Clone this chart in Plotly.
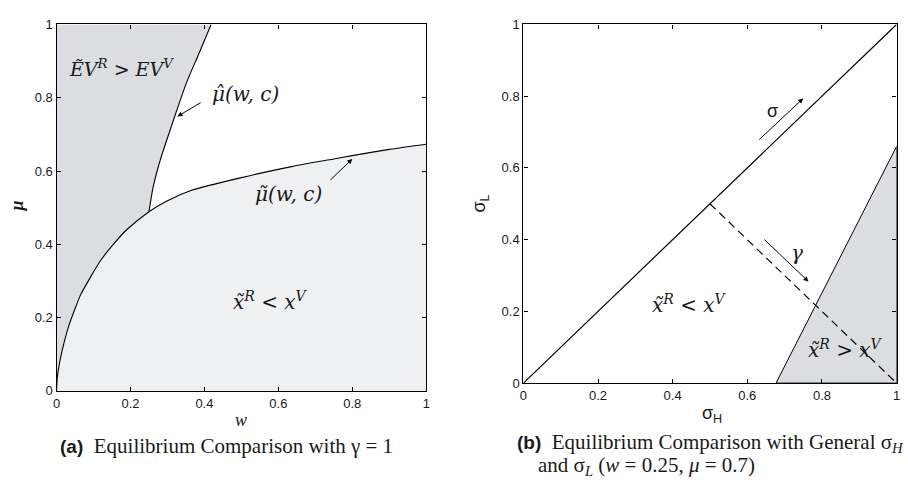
import plotly.graph_objects as go

# ---- Data ----
w_tilde = [0, 0.002, 0.005, 0.01, 0.02, 0.032, 0.05, 0.065, 0.09, 0.12, 0.153, 0.189, 0.25,
           0.296, 0.367, 0.5, 0.635, 0.75, 0.8, 0.9, 1.0]
mu_tilde = [0, 0.035, 0.058, 0.086, 0.13, 0.174, 0.224, 0.262, 0.307, 0.357, 0.399, 0.439, 0.489,
            0.517, 0.548, 0.582, 0.612, 0.633, 0.642, 0.659, 0.673]
w_hat = [0.25, 0.26, 0.272, 0.29, 0.31, 0.33, 0.355, 0.385, 0.418]
mu_hat = [0.489, 0.55, 0.6, 0.66, 0.72, 0.78, 0.85, 0.92, 1.0]

diag_x = [0, 1]
diag_y = [0, 1]
gray_x = [0.677, 1.0, 1.0]
gray_y = [0.0, 0.66, 0.0]
dash_x = [0.5, 1.0]
dash_y = [0.5, 0.0]

ticks = [0, 0.2, 0.4, 0.6, 0.8, 1]
tick_text = ["0", "0.2", "0.4", "0.6", "0.8", "1"]

DARK = "#dcdde0"
LIGHT = "#eff0f2"
SERIF = "Liberation Serif, DejaVu Serif, serif"
MATH = "DejaVu Serif, Liberation Serif, serif"
SANS = "Liberation Sans, Arial, sans-serif"
TXT = "#1a1a1a"

fig = go.Figure()

# Left panel: dark region (left of the boundary curves)
n_low = w_tilde.index(0.25)
dark_x = [0] + w_tilde[:n_low + 1] + w_hat[1:] + [0]
dark_y = [0] + mu_tilde[:n_low + 1] + mu_hat[1:] + [1]
fig.add_trace(go.Scatter(x=dark_x, y=dark_y, fill="toself", fillcolor=DARK,
                         mode="none", hoverinfo="skip", xaxis="x", yaxis="y"))
# light region below mu tilde
light_x = w_tilde + [1, 0]
light_y = mu_tilde + [0, 0]
fig.add_trace(go.Scatter(x=light_x, y=light_y, fill="toself", fillcolor=LIGHT,
                         mode="none", hoverinfo="skip", xaxis="x", yaxis="y"))
fig.add_trace(go.Scatter(x=w_tilde, y=mu_tilde, mode="lines",
                         line=dict(color="black", width=1.1, shape="spline", smoothing=0.6),
                         xaxis="x", yaxis="y"))
fig.add_trace(go.Scatter(x=w_hat, y=mu_hat, mode="lines",
                         line=dict(color="black", width=1.1, shape="spline", smoothing=0.6),
                         xaxis="x", yaxis="y"))

# Right panel
fig.add_trace(go.Scatter(x=gray_x + [gray_x[0]], y=gray_y + [gray_y[0]], fill="toself", fillcolor=DARK,
                         mode="lines", line=dict(color="black", width=1), hoverinfo="skip",
                         xaxis="x2", yaxis="y2"))
fig.add_trace(go.Scatter(x=diag_x, y=diag_y, mode="lines", line=dict(color="black", width=1.2),
                         xaxis="x2", yaxis="y2"))
fig.add_trace(go.Scatter(x=dash_x, y=dash_y, mode="lines", line=dict(color="black", width=1.2, dash="8px,5px"),
                         xaxis="x2", yaxis="y2"))

ax_common = dict(range=[0, 1], tickvals=ticks, ticktext=tick_text, ticks="inside", ticklen=4,
                 tickcolor="black", showline=True, linecolor="black", linewidth=1.3, mirror="ticks",
                 showgrid=False, zeroline=False, tickfont=dict(family=SANS, size=13, color=TXT))

fig.update_layout(
    width=908, height=490,
    margin=dict(l=0, r=0, t=0, b=0),
    paper_bgcolor="white", plot_bgcolor="white",
    showlegend=False,
    xaxis=dict(domain=[53 / 908, 426 / 908], anchor="y", **ax_common),
    yaxis=dict(domain=[1 - 396 / 490, 1 - 18 / 490], anchor="x", **ax_common),
    xaxis2=dict(domain=[524 / 908, 900.5 / 908], anchor="y2", **ax_common),
    yaxis2=dict(domain=[1 - 388 / 490, 1 - 18 / 490], anchor="x2", **ax_common),
)

ann = []
mfont = dict(family=MATH, size=20, color=TXT, style="italic")
# Left labels
ann.append(dict(x=0.175, y=0.88, xref="x", yref="y",
                text="E\u0303V<sup>R</sup> &gt; EV<sup>V</sup>", showarrow=False,
                font=dict(family=MATH, size=19, color=TXT, style="italic")))
ann.append(dict(x=0.51, y=0.81, xref="x", yref="y", text="\u03bc\u0302(w, c)", showarrow=False, font=mfont))
ann.append(dict(x=0.627, y=0.537, xref="x", yref="y", text="\u03bc\u0303(w, c)", showarrow=False, font=mfont))
ann.append(dict(x=0.58, y=0.245, xref="x", yref="y",
                text="x\u0303<sup>R</sup> &lt; x<sup>V</sup>", showarrow=False, font=mfont))
# left arrows
ann.append(dict(x=0.327, y=0.749, ax=0.394, ay=0.789, xref="x", yref="y", axref="x", ayref="y", text="",
                showarrow=True, arrowhead=2, arrowsize=1, arrowwidth=1, arrowcolor="black"))
ann.append(dict(x=0.80, y=0.633, ax=0.737, ay=0.572, xref="x", yref="y", axref="x", ayref="y", text="",
                showarrow=True, arrowhead=2, arrowsize=1, arrowwidth=1, arrowcolor="black"))
# Right labels
ann.append(dict(x=0.668, y=0.76, xref="x2", yref="y2", text="σ", showarrow=False,
                font=dict(family=SANS, size=18, color=TXT)))
ann.append(dict(x=0.75, y=0.794, ax=0.628, ay=0.675, xref="x2", yref="y2", axref="x2", ayref="y2", text="",
                showarrow=True, arrowhead=2, arrowsize=1, arrowwidth=1, arrowcolor="black"))
ann.append(dict(x=0.733, y=0.364, xref="x2", yref="y2", text="γ", showarrow=False, font=mfont))
ann.append(dict(x=0.764, y=0.283, ax=0.642, ay=0.404, xref="x2", yref="y2", axref="x2", ayref="y2", text="",
                showarrow=True, arrowhead=2, arrowsize=1, arrowwidth=1, arrowcolor="black"))
ann.append(dict(x=0.446, y=0.22, xref="x2", yref="y2",
                text="x\u0303<sup>R</sup> &lt; x<sup>V</sup>", showarrow=False, font=mfont))
ann.append(dict(x=0.863, y=0.094, xref="x2", yref="y2",
                text="x\u0303<sup>R</sup> &gt; x<sup>V</sup>", showarrow=False, font=mfont))

# Axis titles (explicit anchors: paper refs otherwise auto-anchor to edges)
ctr = dict(xref="paper", yref="paper", xanchor="center", yanchor="middle", showarrow=False)
ann.append(dict(x=13 / 908, y=1 - 205 / 490, text="<b>μ</b>", textangle=-90,
                font=dict(family=SERIF, size=18, color=TXT, style="italic"), **ctr))
ann.append(dict(x=239 / 908, y=1 - 426 / 490, text="w",
                font=dict(family=SERIF, size=18, color=TXT, style="italic"), **ctr))
ann.append(dict(x=481 / 908, y=1 - 203 / 490, text="σ<sub>L</sub>", textangle=-90,
                font=dict(family=SANS, size=18, color=TXT), **ctr))
ann.append(dict(x=714 / 908, y=1 - 420 / 490, text="σ<sub>H</sub>",
                font=dict(family=SANS, size=18, color=TXT), **ctr))

# Captions
cap = dict(family=SERIF, size=21, color=TXT)
lft = dict(xref="paper", yref="paper", xanchor="left", yanchor="middle", showarrow=False)
ann.append(dict(x=54 / 908, y=1 - 453 / 490,
                text="<span style='font-family:Liberation Sans, Arial, sans-serif;font-size:19px'><b>(a)</b></span>  Equilibrium Comparison with γ = 1",
                font=cap, **lft))
ann.append(dict(x=516 / 908, y=1 - 450 / 490,
                text="<span style='font-family:Liberation Sans, Arial, sans-serif;font-size:19px'><b>(b)</b></span>  Equilibrium Comparison with General σ<sub><i>H</i></sub>",
                font=cap, **lft))
ann.append(dict(x=537 / 908, y=1 - 474 / 490,
                text="and σ<sub><i>L</i></sub> (<i>w</i> = 0.25, <i>μ</i> = 0.7)",
                font=cap, **lft))

fig.update_layout(annotations=ann)
fig.write_html("out.html", config={"displayModeBar": False},
               post_script="document.body.style.margin='0px';document.body.style.overflow='hidden';")
